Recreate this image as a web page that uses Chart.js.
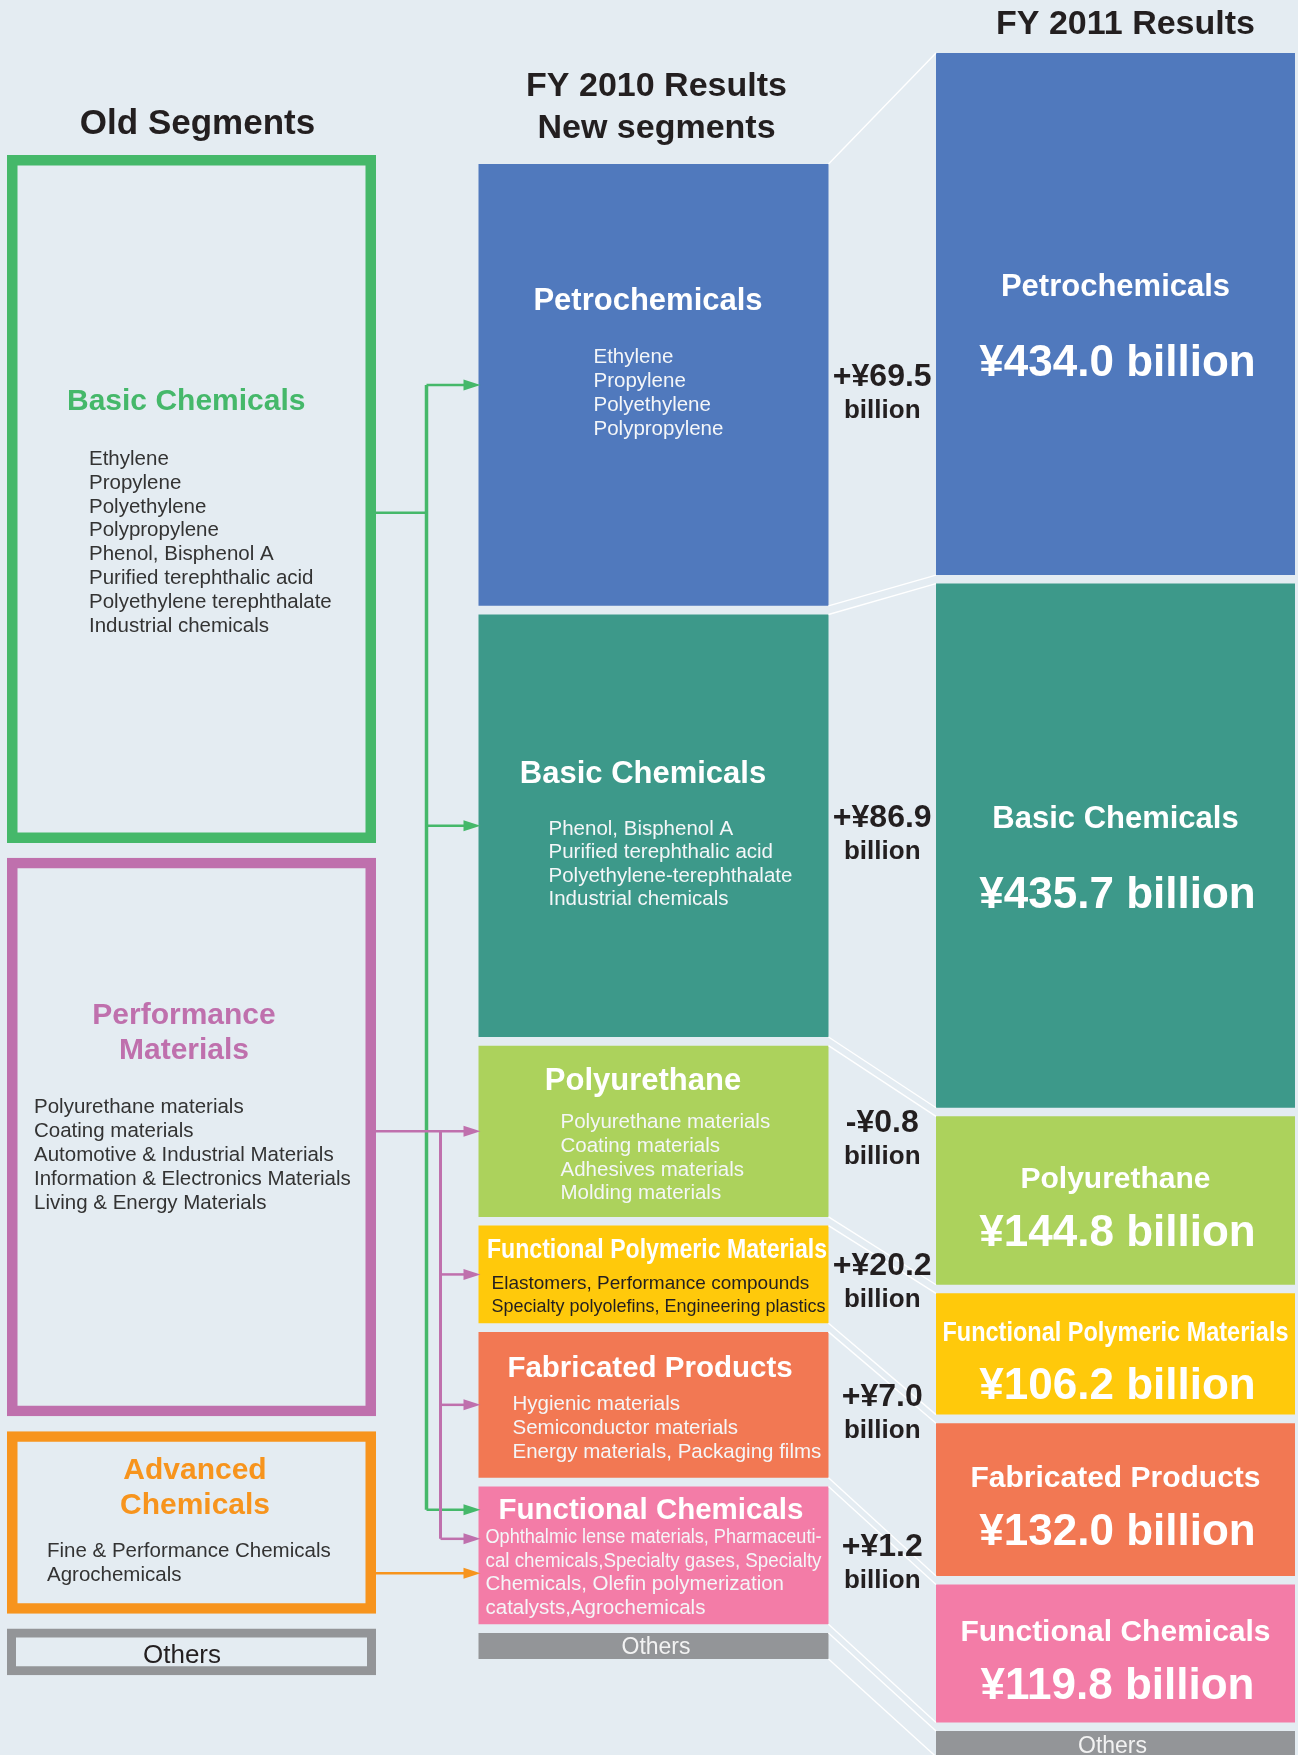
<!DOCTYPE html>
<html>
<head>
<meta charset="utf-8">
<script src="https://cdn.jsdelivr.net/npm/chart.js@4.4.0/dist/chart.umd.min.js"></script>
<style>
  html, body { margin: 0; padding: 0; background: #e4ecf2; overflow: hidden; }
  #wrap { position: relative; width: 1298px; height: 1755px; }
</style>
</head>
<body>
<div id="wrap"><canvas id="c"></canvas></div>
<script>
// ---------------- DATA ----------------
const columns = ['Old Segments', 'FY 2010 Results', 'FY 2011 Results'];

const oldSegments = ['Basic Chemicals', 'Performance Materials', 'Advanced Chemicals', 'Others'];
const oldTitleLines = [['Basic Chemicals'], ['Performance', 'Materials'], ['Advanced', 'Chemicals'], ['Others']];
const oldValues = [570, 465, 160, 50]; // box sizes (¥ billion scale)
const oldItems = [
  ['Ethylene', 'Propylene', 'Polyethylene', 'Polypropylene', 'Phenol, Bisphenol A',
   'Purified terephthalic acid', 'Polyethylene terephthalate', 'Industrial chemicals'],
  ['Polyurethane materials', 'Coating materials', 'Automotive & Industrial Materials',
   'Information & Electronics Materials', 'Living & Energy Materials'],
  ['Fine & Performance Chemicals', 'Agrochemicals'],
  []
];

const newSegments = ['Petrochemicals', 'Basic Chemicals', 'Polyurethane', 'Functional Polymeric Materials',
                     'Fabricated Products', 'Functional Chemicals', 'Others'];
const fy2010 = [364.5, 348.8, 145.6, 86.0, 125.0, 118.6, 28];
const fy2011 = [434.0, 435.7, 144.8, 106.2, 132.0, 119.8, 28];
const yoyChange = [69.5, 86.9, -0.8, 20.2, 7.0, 1.2];
const newItems = [
  ['Ethylene', 'Propylene', 'Polyethylene', 'Polypropylene'],
  ['Phenol, Bisphenol A', 'Purified terephthalic acid', 'Polyethylene-terephthalate', 'Industrial chemicals'],
  ['Polyurethane materials', 'Coating materials', 'Adhesives materials', 'Molding materials'],
  ['Elastomers, Performance compounds', 'Specialty polyolefins, Engineering plastics'],
  ['Hygienic materials', 'Semiconductor materials', 'Energy materials, Packaging films'],
  ['Ophthalmic lense materials, Pharmaceuti-', 'cal chemicals,Specialty gases, Specialty',
   'Chemicals, Olefin polymerization', 'catalysts,Agrochemicals'],
  []
];

// ---------------- STYLE ----------------
const H = 1755;
const FONT = "'Liberation Sans', Arial, Helvetica, sans-serif";
const DARK = '#231f20';
const oldColors = ['#45b86a', '#bf70ad', '#f7941d', '#939598'];
const newColors = ['#5079bd', '#3d998a', '#acd25c', '#ffc90b', '#f27853', '#f37ca7', '#939598'];

function sum(a) { return a.reduce((s, v) => s + v, 0); }
// floating ranges stacked from the bottom, a small gap at the bottom of each slot
function floatRanges(values, gap) {
  const r = new Array(values.length);
  let acc = 0;
  for (let i = values.length - 1; i >= 0; i--) {
    r[i] = [acc + gap, acc + values[i]];
    acc += values[i];
  }
  return r;
}
function axisRange(total, topPx, pxPerUnit) {
  const max = total + topPx / pxPerUnit;
  return { min: max - H / pxPerUnit, max: max };
}

const oldR = floatRanges(oldValues, 12);
const r10 = floatRanges(fy2010, 7);
const r11 = floatRanges(fy2011, 7);

const datasets = [];
oldSegments.forEach((name, i) => datasets.push({
  label: name + ' (old)', data: [oldR[i], null, null], yAxisID: 'yOld',
  backgroundColor: 'rgba(0,0,0,0)', borderColor: oldColors[i], borderWidth: i === 3 ? 9 : 10.5,
  borderSkipped: false, barThickness: 369
}));
newSegments.forEach((name, i) => datasets.push({
  label: name + ' FY2010', data: [null, r10[i], null], yAxisID: 'y10',
  backgroundColor: newColors[i], borderWidth: 0, barThickness: 350
}));
newSegments.forEach((name, i) => datasets.push({
  label: name + ' FY2011', data: [null, null, r11[i]], yAxisID: 'y11',
  backgroundColor: newColors[i], borderWidth: 0, barThickness: 359
}));
datasets.forEach(d => { d.grouped = false; d.skipNull = true; d.clip = false; d.xAxisID = 'x'; d.inflateAmount = 0; });

const OLD0 = 0, N10 = oldSegments.length, N11 = oldSegments.length + newSegments.length;

// text layout (offsets from bar centre / left edge)
const oldLayout = [
  { align: 'left', tdx: 60, tdy: [-89], idx: 82, idy: -34, lh: 23.8 },
  { align: 'center', tdx: -7.5, tdy: [-113, -78], idx: 27, idy: -24, lh: 23.9 },
  { align: 'center', tdx: 3.5, tdy: [-43.5, -8.5], idx: 40, idy: 34.5, lh: 24 },
  { align: 'center', tdx: -9.5, tdy: [11.5], plain: true }
];
const layout10 = [
  { tdx: -5.5, tdy: -75, tf: 31, idx: 115, idy: -22, lh: 24 },
  { tdx: -10.5, tdy: -43, tf: 31, idx: 70, idy: 9, lh: 23.5 },
  { tdx: -10.5, tdy: -41, tf: 31, idx: 82, idy: -3, lh: 23.7 },
  { tdx: 3.5, tdy: -16, tf: 27, tmax: 340, idx: 13, idy: 15, lh: 23, ic: DARK, ifs: 19, imax: 334 },
  { tdx: -3.5, tdy: -27.5, tf: 29.5, idx: 34, idy: 5.5, lh: 24 },
  { tdx: -2.5, tdy: -36.5, tf: 29.5, idx: 7, idy: -12.5, lh: 23.7, imax: 336 },
  { tdx: 2.5, tdy: 8.5, plain: true }
];
const titleSize11 = [31, 31, 30, 28, 30, 30];

const annot = {
  id: 'annot',
  afterDatasetsDraw(chart) {
    const ctx = chart.ctx;
    const box = (di, col) => {
      const el = chart.getDatasetMeta(di).data[col];
      const top = Math.min(el.y, el.base), bottom = Math.max(el.y, el.base);
      return { left: el.x - el.width / 2, right: el.x + el.width / 2, top, bottom,
               cx: el.x, cy: (top + bottom) / 2, w: el.width, h: bottom - top };
    };
    const text = (s, x, y, font, color, align, maxW) => {
      ctx.font = font; ctx.fillStyle = color; ctx.textAlign = align || 'left';
      ctx.textBaseline = 'alphabetic';
      if (maxW) ctx.fillText(s, x, y, maxW); else ctx.fillText(s, x, y);
    };
    ctx.save();

    const oldB = oldSegments.map((_, i) => box(OLD0 + i, 0));
    const b10 = newSegments.map((_, i) => box(N10 + i, 1));
    const b11 = newSegments.map((_, i) => box(N11 + i, 2));

    // white connector lines between FY2010 and FY2011 (drawn under the labels)
    ctx.strokeStyle = '#ffffff'; ctx.lineWidth = 1.4;
    const seg = (x1, y1, x2, y2) => { ctx.beginPath(); ctx.moveTo(x1, y1); ctx.lineTo(x2, y2); ctx.stroke(); };
    const xa = b10[0].right, xb = b11[0].left;
    seg(xa, b10[0].top, xb, b11[0].top);
    for (let i = 0; i < newSegments.length; i++) {
      seg(xa, b10[i].bottom, xb, b11[i].bottom);
      if (i + 1 < newSegments.length) seg(xa, b10[i + 1].top, xb, b11[i + 1].top);
    }

    // column headings
    text(columns[0], oldB[0].cx + 6, oldB[0].top - 21, 'bold 35px ' + FONT, DARK, 'center');
    text('FY 2010 Results', b10[0].cx + 3, b10[0].top - 68, 'bold 34px ' + FONT, DARK, 'center');
    text('New segments', b10[0].cx + 3, b10[0].top - 26, 'bold 34px ' + FONT, DARK, 'center');
    text(columns[2], b11[0].cx + 10, b11[0].top - 19, 'bold 34px ' + FONT, DARK, 'center');

    // old segment texts
    oldB.forEach((b, i) => {
      const L = oldLayout[i];
      if (L.plain) {
        text(oldTitleLines[i][0], b.cx + L.tdx, b.cy + L.tdy[0], '26px ' + FONT, DARK, 'center');
        return;
      }
      oldTitleLines[i].forEach((t, k) => {
        const x = L.align === 'left' ? b.left + L.tdx : b.cx + L.tdx;
        text(t, x, b.cy + L.tdy[k], 'bold 30px ' + FONT, oldColors[i], L.align);
      });
      oldItems[i].forEach((t, k) => text(t, b.left + L.idx, b.cy + L.idy + k * L.lh, '20.5px ' + FONT, '#333333', 'left'));
    });

    // FY2010 texts
    b10.forEach((b, i) => {
      const L = layout10[i];
      if (L.plain) {
        text(newSegments[i], b.cx + L.tdx, b.cy + L.tdy, '23px ' + FONT, '#f2f2f2', 'center');
        return;
      }
      text(newSegments[i], b.cx + L.tdx, b.cy + L.tdy, 'bold ' + L.tf + 'px ' + FONT, '#ffffff', 'center', L.tmax);
      newItems[i].forEach((t, k) => text(t, b.left + L.idx, b.cy + L.idy + k * L.lh,
        (L.ifs || 20.5) + 'px ' + FONT, L.ic || '#f4f6f8', 'left', L.imax));
    });

    // FY2011 texts
    b11.forEach((b, i) => {
      if (i === newSegments.length - 1) {
        text(newSegments[i], b.cx - 3, b.top + 22, '23px ' + FONT, '#f2f2f2', 'center');
        return;
      }
      const big = b.h > 300;
      const mid = b.cy + (big ? 22 : 16), gap = big ? 80 : 58;
      text(newSegments[i], b.cx, mid - gap / 2, 'bold ' + titleSize11[i] + 'px ' + FONT, '#ffffff', 'center', 346);
      text('¥' + fy2011[i].toFixed(1) + ' billion', b.cx + 2, mid + gap / 2, 'bold 44px ' + FONT, '#ffffff', 'center');
    });

    // change labels
    yoyChange.forEach((v, i) => {
      const b = b10[i];
      const x = (b10[i].right + b11[i].left) / 2;
      text((v < 0 ? '-' : '+') + '¥' + Math.abs(v).toFixed(1), x, b.cy + 1, 'bold 32px ' + FONT, DARK, 'center');
      text('billion', x, b.cy + 33, 'bold 26px ' + FONT, DARK, 'center');
    });

    // arrows from old to new segments
    const barLeft = b10[0].left;
    const arrow = (x1, y, color) => {
      ctx.strokeStyle = color; ctx.fillStyle = color; ctx.lineWidth = 2.5;
      ctx.beginPath(); ctx.moveTo(x1, y); ctx.lineTo(barLeft - 12, y); ctx.stroke();
      ctx.beginPath(); ctx.moveTo(barLeft + 2, y); ctx.lineTo(barLeft - 15, y - 5.5); ctx.lineTo(barLeft - 15, y + 5.5);
      ctx.closePath(); ctx.fill();
    };
    const vline = (x, y1, y2, color, w) => {
      ctx.strokeStyle = color; ctx.lineWidth = w;
      ctx.beginPath(); ctx.moveTo(x, y1); ctx.lineTo(x, y2); ctx.stroke();
    };
    const hline = (x1, x2, y, color, w) => {
      ctx.strokeStyle = color; ctx.lineWidth = w;
      ctx.beginPath(); ctx.moveTo(x1, y); ctx.lineTo(x2, y); ctx.stroke();
    };
    const fc = b10[5];
    const gx = barLeft - 52, px = barLeft - 38;
    const green = oldColors[0], purple = oldColors[1], orange = oldColors[2];
    // green
    const gBranch = oldB[0].top + 0.52 * oldB[0].h;
    const gFc = fc.top + 0.17 * fc.h;
    hline(oldB[0].right, gx, gBranch, green, 2.5);
    vline(gx, b10[0].cy, gFc, green, 3.5);
    arrow(gx, b10[0].cy, green);
    arrow(gx, b10[1].cy, green);
    arrow(gx, gFc, green);
    // purple
    const pFc = fc.top + 0.38 * fc.h;
    arrow(oldB[1].right, b10[2].cy, purple);
    vline(px, b10[2].cy, pFc, purple, 3);
    arrow(px, b10[3].cy, purple);
    arrow(px, b10[4].cy, purple);
    arrow(px, pFc, purple);
    // orange
    arrow(oldB[2].right, fc.top + 0.63 * fc.h, orange);

    ctx.restore();
  }
};

new Chart(document.getElementById('c'), {
  type: 'bar',
  data: { labels: columns, datasets: datasets },
  options: {
    responsive: true,
    maintainAspectRatio: false,
    animation: false,
    events: [],
    layout: { padding: { left: 191.5, right: 182.5, top: 0, bottom: 0 } },
    plugins: { legend: { display: false }, tooltip: { enabled: false }, title: { display: false } },
    scales: {
      x: { type: 'category', offset: false, display: false, grid: { display: false } },
      yOld: Object.assign({ type: 'linear', display: false }, axisRange(sum(oldValues), 155, 1.233)),
      y10: Object.assign({ type: 'linear', display: false }, axisRange(sum(fy2010), 164, 1.236)),
      y11: Object.assign({ type: 'linear', display: false }, axisRange(sum(fy2011), 53, 1.2226))
    }
  },
  plugins: [annot]
});
</script>
</body>
</html>
